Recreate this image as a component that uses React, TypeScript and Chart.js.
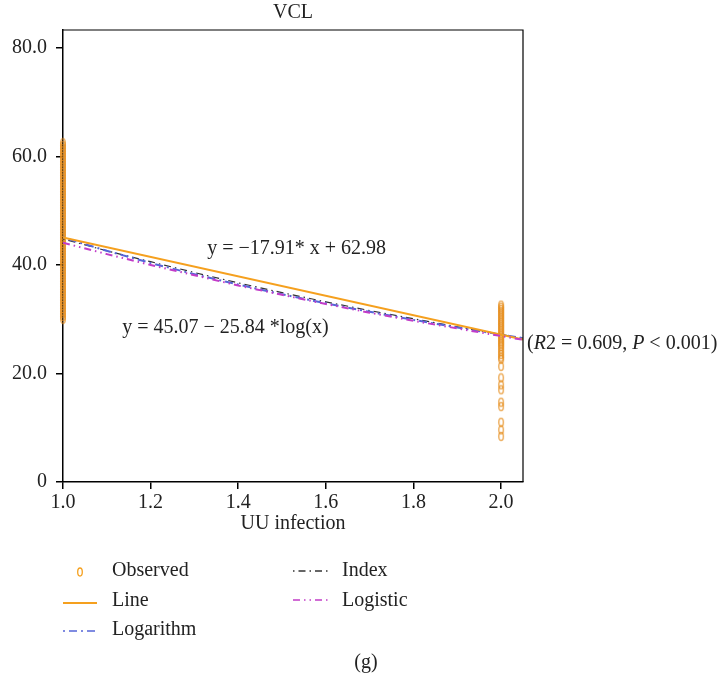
import React, { useEffect, useRef } from "react";
import { Chart, registerables } from "chart.js";

Chart.register(...registerables);

// ---- data ----
const xTicks = [1.0, 1.2, 1.4, 1.6, 1.8, 2.0];
const yTicks = [0, 20, 40, 60, 80];
const groupX = [1, 2];
const observedAt1 = [
  30.0, 30.5, 31.0, 31.5, 32.0, 32.5, 33.0, 33.5, 34.0, 34.5, 35.0, 35.5, 36.0,
  36.5, 37.0, 37.5, 38.0, 38.5, 39.0, 39.5, 40.0, 40.5, 41.0, 41.5, 42.0, 42.5,
  43.0, 43.5, 44.0, 44.5, 45.0, 45.5, 46.0, 46.5, 47.0, 47.5, 48.0, 48.5, 49.0,
  49.5, 50.0, 50.5, 51.0, 51.5, 52.0, 52.5, 53.0, 53.5, 54.0, 54.5, 55.0, 55.5,
  56.0, 56.5, 57.0, 57.5, 58.0, 58.5, 59.0, 59.5, 60.0, 60.5, 61.0, 61.5, 62.0,
  62.5,
];
const observedAt2 = [
  32.6, 32.2, 31.8, 31.4, 31.0, 30.6, 30.2, 29.8, 29.4, 29.0, 28.6, 28.2, 27.8,
  27.4, 27.0, 26.6, 26.2, 25.8, 25.4, 25.0, 24.5, 24.0, 23.5, 23.0, 22.6, 21.3,
  19.2, 17.9, 17.0, 14.7, 13.9, 11.0, 9.6, 8.4,
];
const lineX = [1.0, 2.05];
const lineY = [45.07, 26.26];
const curveX = [1.0, 1.1, 1.2, 1.3, 1.4, 1.5, 1.6, 1.7, 1.8, 1.9, 2.0, 2.05];
const logarithmY = [45.07, 42.61, 40.36, 38.29, 36.38, 34.59, 32.93, 31.36, 29.88, 28.48, 27.16, 26.52];
const indexY = [44.8, 42.6, 40.6, 38.6, 36.7, 34.9, 33.2, 31.6, 30.1, 28.6, 27.2, 26.5];
const logisticY = [44.1, 42.0, 40.0, 38.1, 36.2, 34.5, 32.8, 31.2, 29.7, 28.3, 26.9, 26.2];

const FONT = '"Liberation Serif", "Times New Roman", serif';
const FS = 20;
const ORANGE = "#F5A01E";
const BLUE = "#5566D8";
const MAGENTA = "#C23CC8";
const BLACK = "#333333";

export default function App() {
  const ref = useRef<HTMLCanvasElement>(null);

  useEffect(() => {
    const canvas = ref.current!;
    const marker = document.createElement("canvas");
    marker.width = 8;
    marker.height = 11;
    const m = marker.getContext("2d")!;
    m.strokeStyle = "rgba(230,140,25,0.7)";
    m.lineWidth = 1.5;
    m.beginPath();
    m.ellipse(4, 5.5, 2.3, 4, 0, 0, Math.PI * 2);
    m.stroke();

    const observed = [
      ...observedAt1.map((y) => ({ x: groupX[0], y })),
      ...observedAt2.map((y) => ({ x: groupX[1], y })),
    ];
    const pts = (xs: number[], ys: number[]) => xs.map((x, i) => ({ x, y: ys[i] }));

    const annotations = {
      id: "annotations",
      afterDraw(chart: any) {
        const ctx = chart.ctx as CanvasRenderingContext2D;
        const a = chart.chartArea;
        const xs = chart.scales.x;
        const ys = chart.scales.y;
        ctx.save();
        // frame
        ctx.strokeStyle = "#000";
        ctx.lineWidth = 1.2;
        ctx.beginPath();
        ctx.moveTo(a.left, a.top);
        ctx.lineTo(a.right, a.top);
        ctx.lineTo(a.right, a.bottom);
        ctx.stroke();

        ctx.fillStyle = "#222";
        ctx.font = `${FS}px ${FONT}`;
        ctx.textBaseline = "middle";
        ctx.textAlign = "center";
        const cx = (a.left + a.right) / 2;
        ctx.fillText("VCL", cx, 13);
        ctx.fillText("UU infection", cx, 524);
        ctx.fillText("(g)", 366, 663);

        ctx.textAlign = "left";
        ctx.fillText("y = \u221217.91* x + 62.98", xs.getPixelForValue(1.329), ys.getPixelForValue(43.0));
        ctx.fillText("y = 45.07 \u2212 25.84 *log(x)", xs.getPixelForValue(1.135), ys.getPixelForValue(28.5));

        // R2 annotation with italic letters
        const parts: [string, boolean][] = [
          ["(", false],
          ["R", true],
          ["2 = 0.609, ", false],
          ["P", true],
          [" < 0.001)", false],
        ];
        let tx = a.right + 4;
        const ty = ys.getPixelForValue(26.26) + 4;
        for (const [s, it] of parts) {
          ctx.font = `${it ? "italic " : ""}${FS}px ${FONT}`;
          ctx.fillText(s, tx, ty);
          tx += ctx.measureText(s).width;
        }

        // legend
        ctx.font = `${FS}px ${FONT}`;
        const rows = [571, 601, 630];
        const c1m = [63, 97];
        const c1t = 112;
        const c2m = [293, 328];
        const c2t = 342;
        // Observed
        ctx.strokeStyle = ORANGE;
        ctx.lineWidth = 1.3;
        ctx.beginPath();
        ctx.ellipse(80, rows[0] + 1, 2.3, 4, 0, 0, Math.PI * 2);
        ctx.stroke();
        ctx.fillText("Observed", c1t, rows[0]);
        const seg = (x0: number, x1: number, y: number, color: string, dash: number[], w: number) => {
          ctx.strokeStyle = color;
          ctx.lineWidth = w;
          ctx.setLineDash(dash);
          ctx.beginPath();
          ctx.moveTo(x0, y);
          ctx.lineTo(x1, y);
          ctx.stroke();
          ctx.setLineDash([]);
        };
        seg(c1m[0], c1m[1], rows[1] + 2, ORANGE, [], 2);
        ctx.fillText("Line", c1t, rows[1]);
        seg(c1m[0], c1m[1], rows[2] + 1, BLUE, [2, 4, 8, 4], 1.3);
        ctx.fillText("Logarithm", c1t, rows[2]);
        seg(c2m[0], c2m[1], rows[0], BLACK, [1.5, 4, 7, 4], 1.3);
        ctx.fillText("Index", c2t, rows[0]);
        seg(c2m[0], c2m[1], rows[1] - 1, MAGENTA, [7, 4, 1.5, 4, 1.5, 4], 1.3);
        ctx.fillText("Logistic", c2t, rows[1]);
        ctx.restore();
      },
    };

    const chart = new Chart(canvas, {
      type: "scatter",
      data: {
        datasets: [
          {
            label: "Observed",
            data: observed,
            pointStyle: marker as any,
            pointRadius: 4,
            showLine: false,
            clip: false as any,
            order: 2,
          },
          {
            label: "Line",
            data: pts(lineX, lineY),
            showLine: true,
            borderColor: ORANGE,
            borderWidth: 2,
            pointRadius: 0,
            order: 1,
          },
          {
            label: "Logarithm",
            data: pts(curveX, logarithmY),
            showLine: true,
            borderColor: BLUE,
            borderWidth: 2,
            borderDash: [2, 4, 8, 4],
            pointRadius: 0,
            order: 1,
          },
          {
            label: "Index",
            data: pts(curveX, indexY),
            showLine: true,
            borderColor: BLACK,
            borderWidth: 1.2,
            borderDash: [1.5, 4, 7, 4],
            pointRadius: 0,
            order: 1,
          },
          {
            label: "Logistic",
            data: pts(curveX, logisticY),
            showLine: true,
            borderColor: MAGENTA,
            borderWidth: 2,
            borderDash: [7, 4, 1.5, 4, 1.5, 4],
            pointRadius: 0,
            order: 0,
          },
        ],
      },
      options: {
        responsive: false,
        animation: false,
        layout: { padding: { left: 0, top: 30, right: 202, bottom: 160 } },
        plugins: {
          legend: { display: false },
          tooltip: { enabled: false },
          title: { display: false },
        },
        scales: {
          x: {
            type: "linear",
            min: 1.0,
            max: 2.05,
            afterBuildTicks: (s: any) => {
              s.ticks = xTicks.map((v) => ({ value: v }));
            },
            afterFit: (s: any) => {
              s.height = 40;
            },
            ticks: {
              color: "#222",
              font: { family: FONT, size: FS },
              padding: 2,
              maxRotation: 0,
              autoSkip: false,
              callback: (v: any) => Number(v).toFixed(1),
            },
            grid: {
              display: true,
              drawOnChartArea: false,
              drawTicks: true,
              tickLength: 7,
              color: "#000",
              lineWidth: 1.5,
            },
            border: { display: true, color: "#000", width: 1.5 },
          },
          y: {
            type: "linear",
            min: 0,
            max: 83.3,
            afterBuildTicks: (s: any) => {
              s.ticks = yTicks.map((v) => ({ value: v }));
            },
            afterFit: (s: any) => {
              s.width = 63;
            },
            ticks: {
              color: "#222",
              font: { family: FONT, size: FS },
              padding: 9,
              autoSkip: false,
              callback: (v: any) => (Number(v) === 0 ? "0" : Number(v).toFixed(1)),
            },
            grid: {
              display: true,
              drawOnChartArea: false,
              drawTicks: true,
              tickLength: 7,
              color: "#000",
              lineWidth: 1.5,
            },
            border: { display: true, color: "#000", width: 1.5 },
          },
        },
      },
      plugins: [annotations],
    });
    return () => chart.destroy();
  }, []);

  return (
    <div style={{ position: "absolute", left: 0, top: 0, width: 725, height: 682, background: "#fff" }}>
      <canvas ref={ref} width={725} height={682} style={{ display: "block" }} />
    </div>
  );
}
